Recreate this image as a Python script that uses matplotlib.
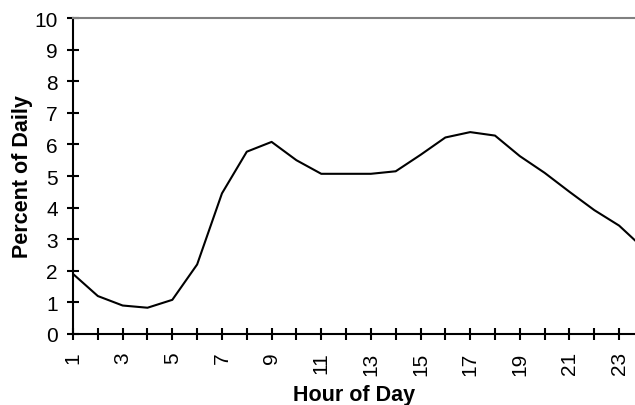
"""Hourly traffic profile: percent of daily volume by hour of day."""

import matplotlib
matplotlib.use("Agg")
import matplotlib.pyplot as plt

plt.rcParams["font.family"] = ["Liberation Sans", "DejaVu Sans"]

# Values
hours = list(range(1, 25))
percent_daily = [
    1.9, 1.2, 0.9, 0.83, 1.08, 2.2, 4.45, 5.77, 6.08, 5.5, 5.07, 5.07,
    5.07, 5.15, 5.67, 6.22, 6.39, 6.28, 5.63, 5.1, 4.5, 3.92, 3.43, 2.7,
]
y_ticks = list(range(0, 11))

fig = plt.figure(figsize=(6.35, 4.06), dpi=100)
ax = fig.add_axes([0.115, 0.175, 0.885, 0.778])

ax.plot(hours, percent_daily, color="black", linewidth=1.5, clip_on=True)

ax.set_xlim(1, 23.64)
ax.set_ylim(0, 10)

# ticks every hour, labels on odd hours only
ax.set_xticks(hours[:23])
ax.set_xticklabels([str(h) if h % 2 == 1 else "" for h in hours[:23]],
                   rotation=90, fontsize=15)
ax.set_yticks(y_ticks)
ax.set_yticklabels([str(v) for v in y_ticks], fontsize=15)
ax.tick_params(direction="inout", length=9, width=1.5, color="black")
ax.tick_params(axis="x", pad=8)
ax.tick_params(axis="y", pad=6.5)

ax.spines["left"].set_linewidth(1.5)
ax.spines["bottom"].set_linewidth(1.5)
ax.spines["top"].set_color("#808080")
ax.spines["top"].set_linewidth(1.5)
ax.spines["right"].set_visible(False)

ax.set_xlabel("Hour of Day", fontsize=15.5, fontweight="bold", labelpad=7)
ax.set_ylabel("Percent of Daily", fontsize=15.5, fontweight="bold",
              labelpad=1)

fig.savefig("out.png", dpi=100)
